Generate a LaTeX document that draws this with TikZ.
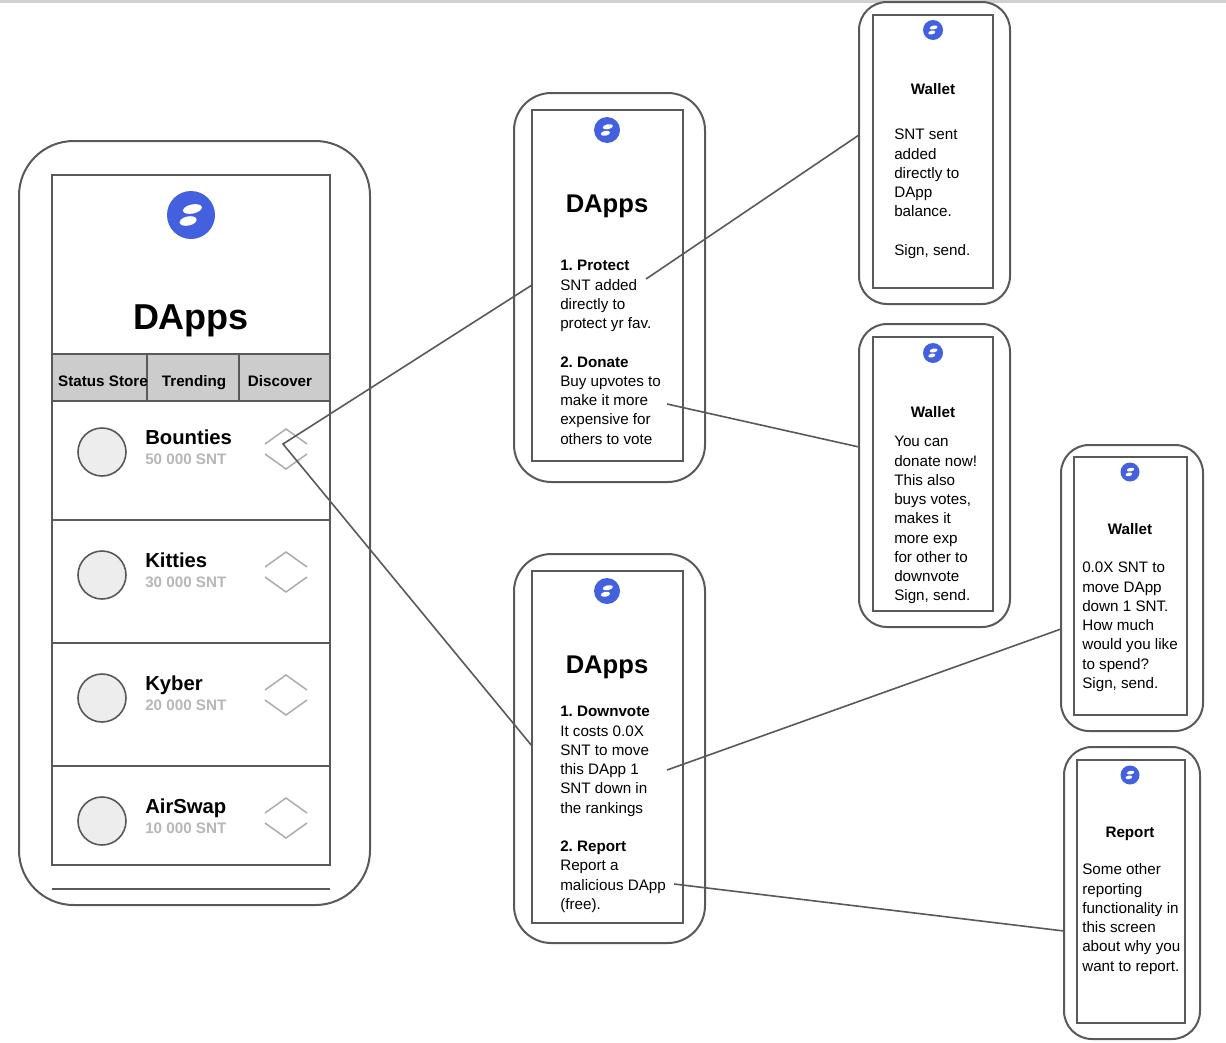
\documentclass[tikz,border=0pt]{standalone}
\usepackage{fontspec}
\setmainfont{Liberation Sans}
\frenchspacing
\definecolor{ink}{HTML}{595959}
\definecolor{tabfill}{HTML}{CCCCCC}
\definecolor{logoblue}{HTML}{4360DF}
\definecolor{chev}{HTML}{ABABAB}
\definecolor{subgray}{HTML}{B7B7B7}
\newcommand\pxbox[6]{%
  \pgfmathsetmacro\bw{(#5-#3)*0.75}%
  \pgfmathsetmacro\bh{(#6-#4)*0.75}%
  \node[#2,minimum width=\bw pt,minimum height=\bh pt] (#1) at ({(#3+#5)/2},{(#4+#6)/2}) {};}
\newcommand\snlogo[4]{% name, x, y, r
  \pgfmathsetmacro\rr{#4*0.75}%
  \node[logo,minimum size=2*\rr pt] (#1) at (#2,#3) {};
  \fill[white] ({#2+0.06*#4},{#3-0.25*#4}) ellipse [x radius=0.40*#4, y radius=0.19*#4, rotate=12];
  \fill[white] ({#2-0.12*#4},{#3+0.25*#4}) ellipse [x radius=0.36*#4, y radius=0.19*#4, rotate=12];}
\tikzset{
  shell/.style={draw=ink,line width=1.5pt,rounded corners=#1,inner sep=0pt,outer sep=0pt},
  screen/.style={draw=ink,line width=1.5pt,fill=white,inner sep=0pt,outer sep=0pt},
  tabcell/.style={draw=ink,line width=1.5pt,fill=tabfill,inner sep=0pt,outer sep=0pt},
  logo/.style={circle,fill=logoblue,draw=none,inner sep=0pt,outer sep=0pt},
  dot/.style={circle,draw=ink,line width=1.2pt,fill=black!7,minimum size=36pt,inner sep=0pt,outer sep=0pt},
  conn/.style={draw=ink,line width=1.2pt},
  chevron/.style={draw=chev,line width=1.1pt},
  rule/.style={draw=ink,line width=1.3pt},
  body/.style={inner sep=0pt,anchor=north west,align=left,font=\fontsize{11.4}{14.45}\selectfont},
  head/.style={inner sep=0pt,anchor=base,font=\fontsize{11.4}{14.4}\selectfont\bfseries},
  bigtitle/.style={inner sep=0pt,anchor=base,font=\fontsize{27}{30}\selectfont\bfseries},
  midtitle/.style={inner sep=0pt,anchor=base,font=\fontsize{19.2}{22}\selectfont\bfseries},
  tablabel/.style={inner sep=0pt,anchor=base,font=\fontsize{11.4}{14}\selectfont\bfseries},
  appname/.style={inner sep=0pt,anchor=base west,font=\fontsize{15.2}{18}\selectfont\bfseries},
  appsnt/.style={inner sep=0pt,anchor=base west,text=subgray,font=\fontsize{11.4}{14}\selectfont\bfseries},
}
\begin{document}
\begin{tikzpicture}[x=0.75pt,y=-0.75pt]
\useasboundingbox (0,0) rectangle (1226,1042);
\fill[white] (0,0) rectangle (1226,1042);
\fill[black!18] (0,0) rectangle (1226,3);

% main phone
\pxbox{shellA}{shell=41pt}{19}{141}{370}{905}
\pxbox{screenA}{screen}{52}{175}{330}{865}
\pxbox{tabA}{tabcell}{52}{354}{147}{401}
\pxbox{tabB}{tabcell}{147}{354}{239}{401}
\pxbox{tabC}{tabcell}{239}{354}{330}{401}
\node[tablabel] (tabAt) at (103,386) {Status Store};
\node[tablabel] (tabBt) at (194,386) {Trending};
\node[tablabel] (tabCt) at (280,386) {Discover};
\node[bigtitle] (titleA) at (191,329.5) {DApps};
\snlogo{logoA}{191}{215}{24}
\draw[rule] (52,520) -- (330,520);
\draw[rule] (52,643) -- (330,643);
\draw[rule] (52,766) -- (330,766);
\draw[rule] (52,889) -- (330,889);
\foreach \nm/\snt/\top in {Bounties/50 000 SNT/429,Kitties/30 000 SNT/552,Kyber/20 000 SNT/675,AirSwap/10 000 SNT/798}{
  \node[dot] (dot\nm) at (102,\top+23) {};
  \node[appname] (name\nm) at (145,\top+15) {\nm};
  \node[appsnt] (snt\nm) at (145,\top+35) {\snt};
  \draw[chevron] (265,\top+15) -- (286,\top) -- (307,\top+15);
  \draw[chevron] (265,\top+25) -- (286,\top+40) -- (307,\top+25);
}

% DApps menus
\pxbox{shellB}{shell=28pt}{514}{93}{705}{482}
\pxbox{screenB}{screen}{532}{110}{683}{461}
\snlogo{logoB}{607}{130}{13}
\node[midtitle] (titleB) at (607,212.5) {DApps};
\node[body] (textB) at (560,257) {\strut\textbf{1. Protect}\\SNT added\\directly to\\protect yr fav.\\[14.45pt]\textbf{2. Donate}\\Buy upvotes to\\make it more\\expensive for\\others to vote};

\pxbox{shellC}{shell=28pt}{514}{554}{705}{943}
\pxbox{screenC}{screen}{532}{571}{683}{923}
\snlogo{logoC}{607}{591}{13}
\node[midtitle] (titleC) at (607,673.5) {DApps};
\node[body] (textC) at (560,703) {\strut\textbf{1. Downvote}\\It costs 0.0X\\SNT to move\\this DApp 1\\SNT down in\\the rankings\\[14.45pt]\textbf{2. Report}\\Report a\\malicious DApp\\(free).};

% wallet 1
\pxbox{shellD}{shell=21pt}{859}{2}{1010}{304}
\pxbox{screenD}{screen}{873}{15}{993}{288}
\snlogo{logoD}{933}{30}{10}
\node[head] (headD) at (933,94) {Wallet};
\node[body] (textD) at (894,126) {\strut SNT sent\\added\\directly to\\DApp\\balance.\\[14.45pt]Sign, send.};

% wallet 2
\pxbox{shellE}{shell=21pt}{859}{324}{1010}{627}
\pxbox{screenE}{screen}{873}{337}{993}{611}
\snlogo{logoE}{933}{353}{10}
\node[head] (headE) at (933,417) {Wallet};
\node[body] (textE) at (894,433) {\strut You can\\donate now!\\This also\\buys votes,\\makes it\\more exp\\for other to\\downvote\\Sign, send.};

% wallet 3
\pxbox{shellF}{shell=21pt}{1061}{445}{1203}{731}
\pxbox{screenF}{screen}{1074}{457}{1187}{715}
\snlogo{logoF}{1130}{472}{9.5}
\node[head] (headF) at (1130,534) {Wallet};
\node[body] (textF) at (1082,559) {\strut 0.0X SNT to\\move DApp\\down 1 SNT.\\How much\\would you like\\to spend?\\Sign, send.};

% report
\pxbox{shellG}{shell=21pt}{1064}{747}{1200}{1039}
\pxbox{screenG}{screen}{1077}{760}{1185}{1023}
\snlogo{logoG}{1130}{775}{9.5}
\node[head] (headG) at (1130,837) {Report};
\node[body] (textG) at (1082,861) {\strut Some other\\reporting\\functionality in\\this screen\\about why you\\want to report.};

% connectors
\coordinate (hub) at (283,444);
\coordinate (fromProtect) at (646,279);
\coordinate (fromDonate) at (667,404);
\coordinate (fromDown) at (667,770);
\coordinate (fromReport) at (674,884);
\draw[conn] (screenB.west |- 0,285) -- (hub) -- (screenC.west |- 0,746);
\draw[conn] (fromProtect) -- (shellD.west |- 0,135);
\draw[conn] (fromDonate) -- (shellE.west |- 0,447);
\draw[conn] (fromDown) -- (shellF.west |- 0,629);
\draw[conn] (fromReport) -- (shellG.west |- 0,931);
\end{tikzpicture}
\end{document}
